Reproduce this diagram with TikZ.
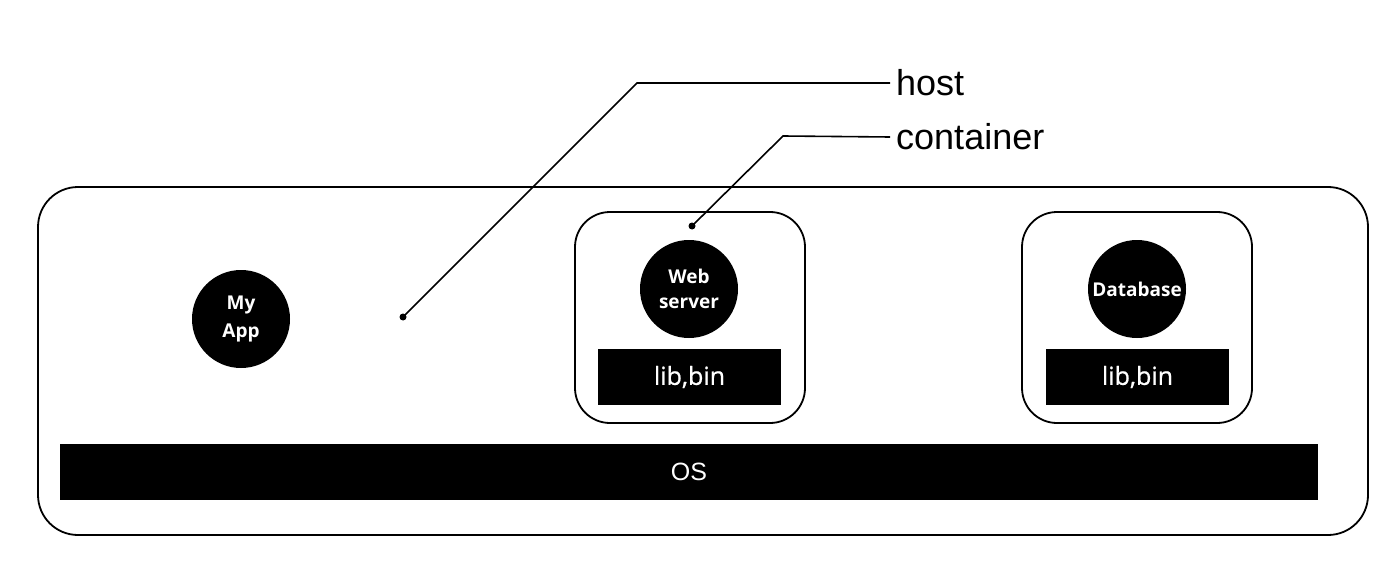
\documentclass[tikz,border=0pt]{standalone}
\usepackage{fontspec}
\setmainfont{Liberation Sans}
\newfontfamily\boldlab{Open Sans}
\newfontfamily\semilab[FakeBold=0.8]{Open Sans}
\begin{document}
\begin{tikzpicture}[x=1pt,y=-1pt,
  box/.style={draw=black,line width=1.8pt,rounded corners=#1,fill=none,inner sep=0},
  bar/.style={fill=black,text=white,inner sep=0,font=\semilab\fontsize{25}{28}\selectfont},
  ball/.style={circle,fill=black,text=white,inner sep=0,minimum size=98pt,align=center,font=\boldlab\bfseries\fontsize{19}{25}\selectfont},
  lead/.style={line width=1.6pt},
  dot/.style={circle,fill=black,inner sep=0,minimum size=7pt},
  lab/.style={anchor=west,inner sep=0,font=\fontsize{36}{40}\selectfont}]
\useasboundingbox (0,0) rectangle (1386,564);
\node[box=40pt,minimum width=1330pt,minimum height=348pt] (host) at (703,361) {};
\node[box=35pt,minimum width=230pt,minimum height=211pt] (webc) at (690,317.5) {};
\node[box=35pt,minimum width=230pt,minimum height=211pt] (dbc) at (1137,317.5) {};
\node[bar,minimum width=1258pt,minimum height=56pt,font=\fontsize{25}{28}\selectfont] (os) at (689,472) {OS};
\node[bar,minimum width=183pt,minimum height=56pt] (libw) at (689.5,377) {lib,bin};
\node[bar,minimum width=183pt,minimum height=56pt] (libd) at (1137.5,377) {lib,bin};
\node[ball,font=\boldlab\bfseries\fontsize{19}{28}\selectfont] (app) at (241,319) {My\\App};
\node[ball] (web) at (689,289) {Web\\server};
\node[ball] (db) at (1137,289) {Database};
\node[dot] (hdot) at (403,317) {};
\node[dot] (cdot) at (692,226) {};
\coordinate (hbend) at (637,83);
\coordinate (cbend) at (783,136);
\node[lab] (hlab) at (896,83) {host};
\node[lab] (clab) at (896,137) {container};
\draw[lead] (hdot.center) -- (hbend) -- ([xshift=-6pt]hlab.west);
\draw[lead] (cdot.center) -- (cbend) -- ([xshift=-6pt]clab.west);
\end{tikzpicture}
\end{document}
